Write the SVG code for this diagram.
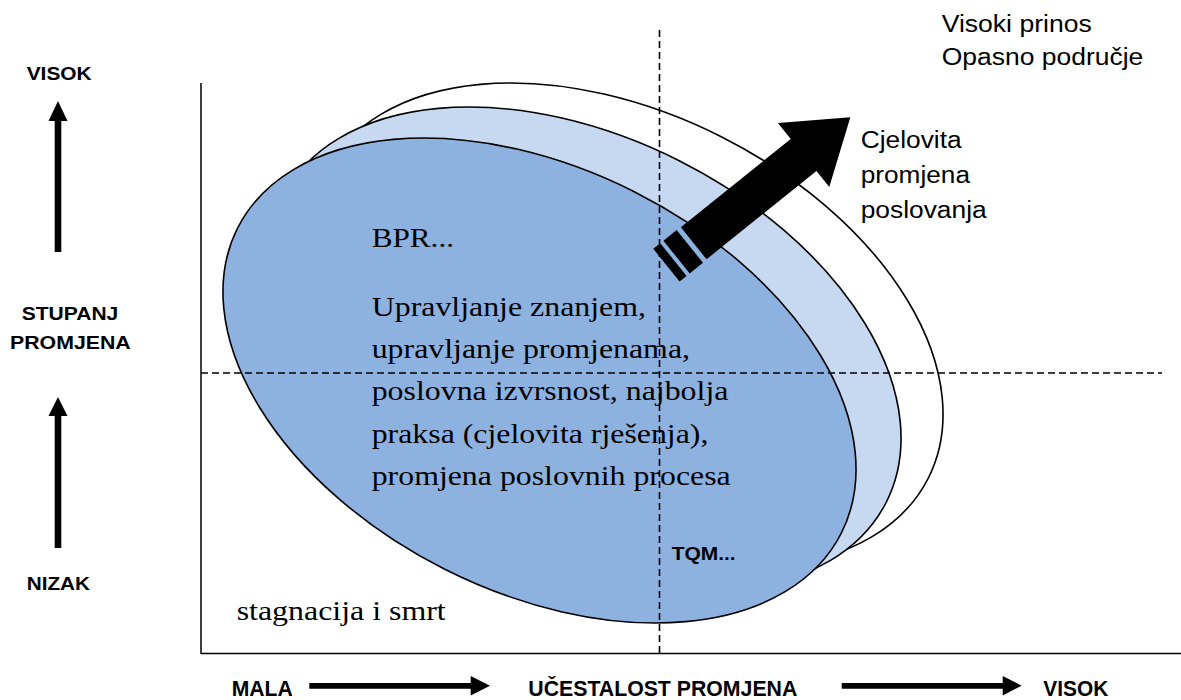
<svg xmlns="http://www.w3.org/2000/svg" width="1181" height="700" viewBox="0 0 1181 700">
<defs>
<style>
.ell{stroke:#000;stroke-width:1.6}
.axis{stroke:#000;stroke-width:1.5;fill:none}
.dash{stroke:#000;stroke-width:1.6;stroke-dasharray:7 4;fill:none}
.serif{font-family:"Liberation Serif","Times New Roman",serif;font-size:28px;fill:#000}
.sans{font-family:"Liberation Sans",Arial,sans-serif;font-size:23px;fill:#000}
.bold{font-family:"Liberation Sans",Arial,sans-serif;font-weight:bold;fill:#000}
</style>
</defs>
<rect width="1181" height="700" fill="#fff"/>

<g id="outer-ellipse"><ellipse class="ell" cx="626.5" cy="325.5" rx="338.2" ry="211.2" transform="rotate(26.8 626.5 325.5)" fill="#fff"/></g>
<g id="middle-ellipse"><ellipse class="ell" cx="584.5" cy="349.5" rx="338.2" ry="211.2" transform="rotate(26.8 584.5 349.5)" fill="#C6D9F1"/></g>
<g id="inner-ellipse"><ellipse class="ell" cx="539.5" cy="380.5" rx="338.2" ry="211.2" transform="rotate(26.8 539.5 380.5)" fill="#8EB2E0"/></g>

<g id="axes">
<line class="axis" x1="201" y1="83" x2="201" y2="654"/>
<line class="axis" x1="201" y1="653.5" x2="1181" y2="653.5"/>
<line class="dash" x1="659.5" y1="30" x2="659.5" y2="654"/>
<line class="dash" x1="201" y1="373" x2="1162" y2="373"/>
</g>

<g id="texts-inner">
<text class="serif" x="371.7" y="246.7" textLength="82.3" lengthAdjust="spacingAndGlyphs">BPR...</text>
<text class="serif" x="371.7" y="315.7" textLength="274.3" lengthAdjust="spacingAndGlyphs">Upravljanje znanjem,</text>
<text class="serif" x="371.7" y="357.5" textLength="318.3" lengthAdjust="spacingAndGlyphs">upravljanje promjenama,</text>
<text class="serif" x="371.7" y="400" textLength="356.7" lengthAdjust="spacingAndGlyphs">poslovna izvrsnost, najbolja</text>
<text class="serif" x="371.7" y="442.5" textLength="336.7" lengthAdjust="spacingAndGlyphs">praksa (cjelovita rješenja),</text>
<text class="serif" x="371.7" y="485" textLength="359" lengthAdjust="spacingAndGlyphs">promjena poslovnih procesa</text>
<text class="serif" x="236.7" y="620" textLength="209" lengthAdjust="spacingAndGlyphs">stagnacija i smrt</text>
<text class="bold" x="671.7" y="559.5" font-size="19" textLength="64" lengthAdjust="spacingAndGlyphs">TQM...</text>
</g>

<g id="big-arrow" transform="translate(693.7 243.3) rotate(-38.8)">
<polygon points="0,-20.5 141,-20.5 141,-41 201,0 141,41 141,20.5 0,20.5" fill="#000"/>
<rect x="-22" y="-21" width="17" height="42" fill="#000"/>
<rect x="-35" y="-21" width="9" height="42" fill="#000"/>
</g>

<g id="labels-right">
<text class="sans" x="941.7" y="31.7" textLength="150" lengthAdjust="spacingAndGlyphs">Visoki prinos</text>
<text class="sans" x="941.7" y="65" textLength="201.6" lengthAdjust="spacingAndGlyphs">Opasno područje</text>
<text class="sans" x="860.7" y="148.3" textLength="101" lengthAdjust="spacingAndGlyphs">Cjelovita</text>
<text class="sans" x="860.7" y="183.3" textLength="109.3" lengthAdjust="spacingAndGlyphs">promjena</text>
<text class="sans" x="860.7" y="218.3" textLength="126" lengthAdjust="spacingAndGlyphs">poslovanja</text>
</g>

<g id="y-axis-labels">
<text class="bold" x="26.7" y="79.5" font-size="18" textLength="65" lengthAdjust="spacingAndGlyphs">VISOK</text>
<text class="bold" x="21.7" y="319.5" font-size="18" textLength="96.6" lengthAdjust="spacingAndGlyphs">STUPANJ</text>
<text class="bold" x="10" y="349" font-size="18" textLength="120.7" lengthAdjust="spacingAndGlyphs">PROMJENA</text>
<text class="bold" x="26.7" y="590" font-size="18" textLength="63.3" lengthAdjust="spacingAndGlyphs">NIZAK</text>
<polygon points="58,101 67.5,121 61.3,121 61.3,252 54.7,252 54.7,121 48.5,121" fill="#000"/>
<polygon points="58,397 67.5,416 61.3,416 61.3,548 54.7,548 54.7,416 48.5,416" fill="#000"/>
</g>

<g id="x-axis-labels">
<text class="bold" x="231.7" y="696" font-size="22" textLength="61" lengthAdjust="spacingAndGlyphs">MALA</text>
<text class="bold" x="528.3" y="696" font-size="22" textLength="269" lengthAdjust="spacingAndGlyphs">UČESTALOST PROMJENA</text>
<text class="bold" x="1043.3" y="696" font-size="22" textLength="65" lengthAdjust="spacingAndGlyphs">VISOK</text>
<polygon points="309.3,683 470.7,683 470.7,676 490,685.7 470.7,695.4 470.7,688.7 309.3,688.7" fill="#000"/>
<polygon points="841.7,683 1002.7,683 1002.7,676 1021.7,685.7 1002.7,695.4 1002.7,688.7 841.7,688.7" fill="#000"/>
</g>
</svg>
